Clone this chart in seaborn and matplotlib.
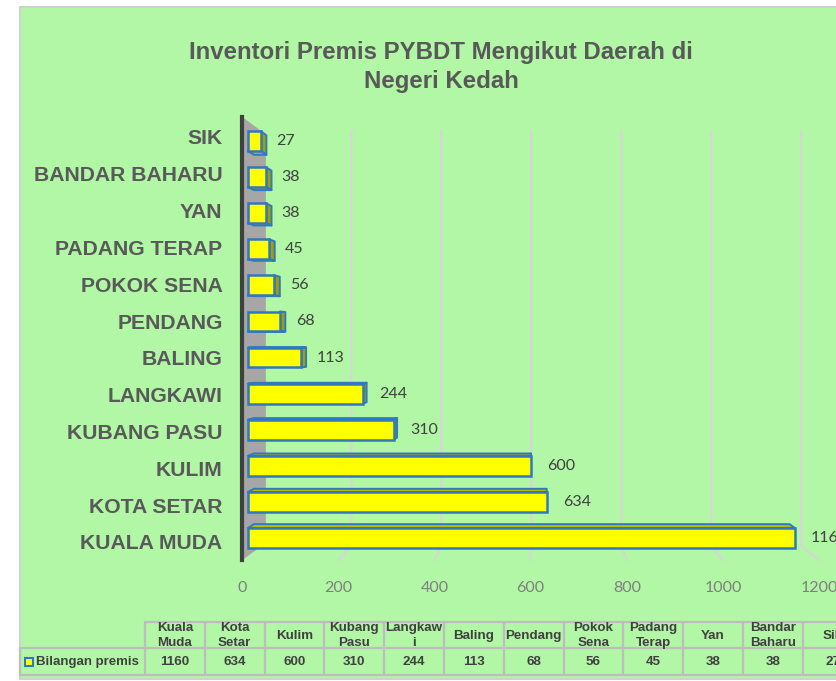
import matplotlib
matplotlib.use("Agg")
import matplotlib.pyplot as plt
from matplotlib.patches import Polygon, Rectangle
import seaborn as sns
import pandas as pd

# data
categories = ["KUALA MUDA", "KOTA SETAR", "KULIM", "KUBANG PASU", "LANGKAWI", "BALING",
              "PENDANG", "POKOK SENA", "PADANG TERAP", "YAN", "BANDAR BAHARU", "SIK"]
premis = [1160, 634, 600, 310, 244, 113, 68, 56, 45, 38, 38, 27]
table_headers = ["Kuala\nMuda", "Kota\nSetar", "Kulim", "Kubang\nPasu", "Langkaw\ni", "Baling",
                 "Pendang", "Pokok\nSena", "Padang\nTerap", "Yan", "Bandar\nBaharu", "Sik"]
series_name = "Bilangan premis"
x_ticks = [0, 200, 400, 600, 800, 1000, 1200]
title = "Inventori Premis PYBDT Mengikut Daerah di\nNegeri Kedah"

BG = "#b1f7a5"
YELLOW = "#ffff00"
EDGE = "#3078bf"
TOP = "#bcbc00"
SIDE = "#a0a000"

sns.set_style("white")
plt.rcParams["font.family"] = ["Liberation Sans", "DejaVu Sans"]

W, H = 837, 681
fig = plt.figure(figsize=(W / 100, H / 100), dpi=100)
fig.patch.set_facecolor("white")

# chart frame
fig.patches.append(Rectangle((20 / W, 2 / H), 1.0, (679 - 7) / H, transform=fig.transFigure,
                             facecolor=BG, edgecolor="#d0d0d0", linewidth=1.5, zorder=-5))

fig.text(441 / W, 1 - 67 / H, title, ha="center", va="center", fontsize=17.3,
         fontweight="bold", color="#595959", linespacing=1.3)

ax = fig.add_axes([242 / W, 1 - 560.4 / H, 577.2 / W, 443.7 / H])
ax.set_facecolor("none")

df = pd.DataFrame({"daerah": categories, "premis": premis})
order = categories[::-1]
sns.barplot(data=df, x="premis", y="daerah", order=order, orient="h", color=YELLOW,
            saturation=1, edgecolor=EDGE, linewidth=1.8, width=0.55, ax=ax, zorder=5)

YTOP, YBOT = -0.55, 11.5
ax.set_xlim(0, 1200)
ax.set_ylim(YBOT, YTOP)

# simple perspective towards a vanishing point
VP = (620, 5.5)
K1, K2, KB = 0.02, 0.04, 0.065


def proj(x, y, k):
    return (x + (VP[0] - x) * k, y + (VP[1] - y) * k)


# back wall grid lines and floor slant
for v in x_ticks[1:]:
    pts = [proj(v, YTOP, KB), proj(v, YBOT, KB), (v, YBOT)]
    ax.plot([p[0] for p in pts], [p[1] for p in pts], color="#d6d6d6", lw=1.6,
            zorder=1, clip_on=False)

# left side wall
wall = [(0, YTOP), proj(0, YTOP, KB + 0.015), proj(0, YBOT, KB + 0.015), (0, YBOT)]
ax.add_patch(Polygon(wall, closed=True, facecolor="#a6a6a6", edgecolor="none",
                     zorder=2, clip_on=False))

# turn flat seaborn bars into boxes
for bar, name in zip(ax.patches[:len(order)], order):
    x0, y0 = bar.get_x(), bar.get_y()
    w, h = bar.get_width(), bar.get_height()
    fx, fy = proj(x0, y0, K1)
    fw, fh = w * (1 - K1), h * (1 - K1)
    bar.set_xy((fx, fy))
    bar.set_width(fw)
    bar.set_height(fh)
    xl, xr, yt, yb = fx, fx + fw, fy, fy + fh
    k = (K2 - K1) / (1 - K1)
    # right side
    if xr < VP[0]:
        side = [(xr, yt), (xr, yb), proj(xr, yb, k), proj(xr, yt, k)]
        ax.add_patch(Polygon(side, closed=True, facecolor=SIDE, edgecolor=EDGE,
                             lw=1.4, zorder=4, joinstyle="round"))
    # top or bottom face
    yc = (yt + yb) / 2
    ye = yt if yc > VP[1] else yb
    face = [(xl, ye), (xr, ye), proj(xr, ye, k), proj(xl, ye, k)]
    ax.add_patch(Polygon(face, closed=True, facecolor=TOP, edgecolor=EDGE,
                         lw=1.4, zorder=4, joinstyle="round"))
    val = df.loc[df["daerah"] == name, "premis"].iloc[0]
    ax.text(xr + 33, yc, f"{val}", ha="left", va="center", fontsize=11.5,
            family=["Lato", "DejaVu Sans"], color="#404040", clip_on=False, zorder=6)

for s in ["top", "right", "bottom"]:
    ax.spines[s].set_visible(False)
ax.spines["left"].set_color("#404040")
ax.spines["left"].set_linewidth(3)
ax.spines["left"].set_zorder(7)

ax.set_xticks(x_ticks)
ax.set_xticklabels([str(t) for t in x_ticks], family=["Lato", "DejaVu Sans"],
                   fontsize=11.5, color="#7f7f7f")
ax.tick_params(axis="x", length=0, pad=15)
ax.tick_params(axis="y", length=0, pad=14)
for lab in ax.get_yticklabels():
    lab.set_fontsize(15.2)
    lab.set_fontweight("bold")
    lab.set_color("#595959")
ax.set_xlabel("")
ax.set_ylabel("")

# data table under the chart
col_w = 59.8
tax = fig.add_axes([20 / W, 1 - 675 / H, (145 + 12 * col_w - 20) / W, (675 - 621.7) / H])
tax.set_facecolor("none")
x_left = -125 / col_w
tax.set_xlim(x_left, 12)
tax.set_ylim(2, 0)
tax.axis("off")
grid_kw = dict(color="#bdbdbd", lw=1.6, clip_on=False)
tax.plot([0, 12], [0, 0], **grid_kw)
tax.plot([x_left, 12], [1, 1], **grid_kw)
tax.plot([x_left, 12], [2, 2], **grid_kw)
for i in range(13):
    tax.plot([i, i], [0, 2], **grid_kw)
tax.plot([x_left, x_left], [1, 2], **grid_kw)

tfont = dict(fontsize=9.6, fontweight="bold", color="#404040", ha="center", va="center")
for i, (hd, v) in enumerate(zip(table_headers, premis)):
    tax.text(i + 0.5, 0.53, hd, linespacing=1.35, **tfont)
    tax.text(i + 0.5, 1.5, str(v), **tfont)
tax.plot([x_left + 9 / col_w], [1.5], marker="s", ms=6, mfc=YELLOW, mec=EDGE, mew=1.5)
tax.text(x_left + 16 / col_w, 1.5, series_name, fontsize=9.5, fontweight="bold",
         color="#404040", ha="left", va="center")

fig.savefig("out.png", dpi=100)
